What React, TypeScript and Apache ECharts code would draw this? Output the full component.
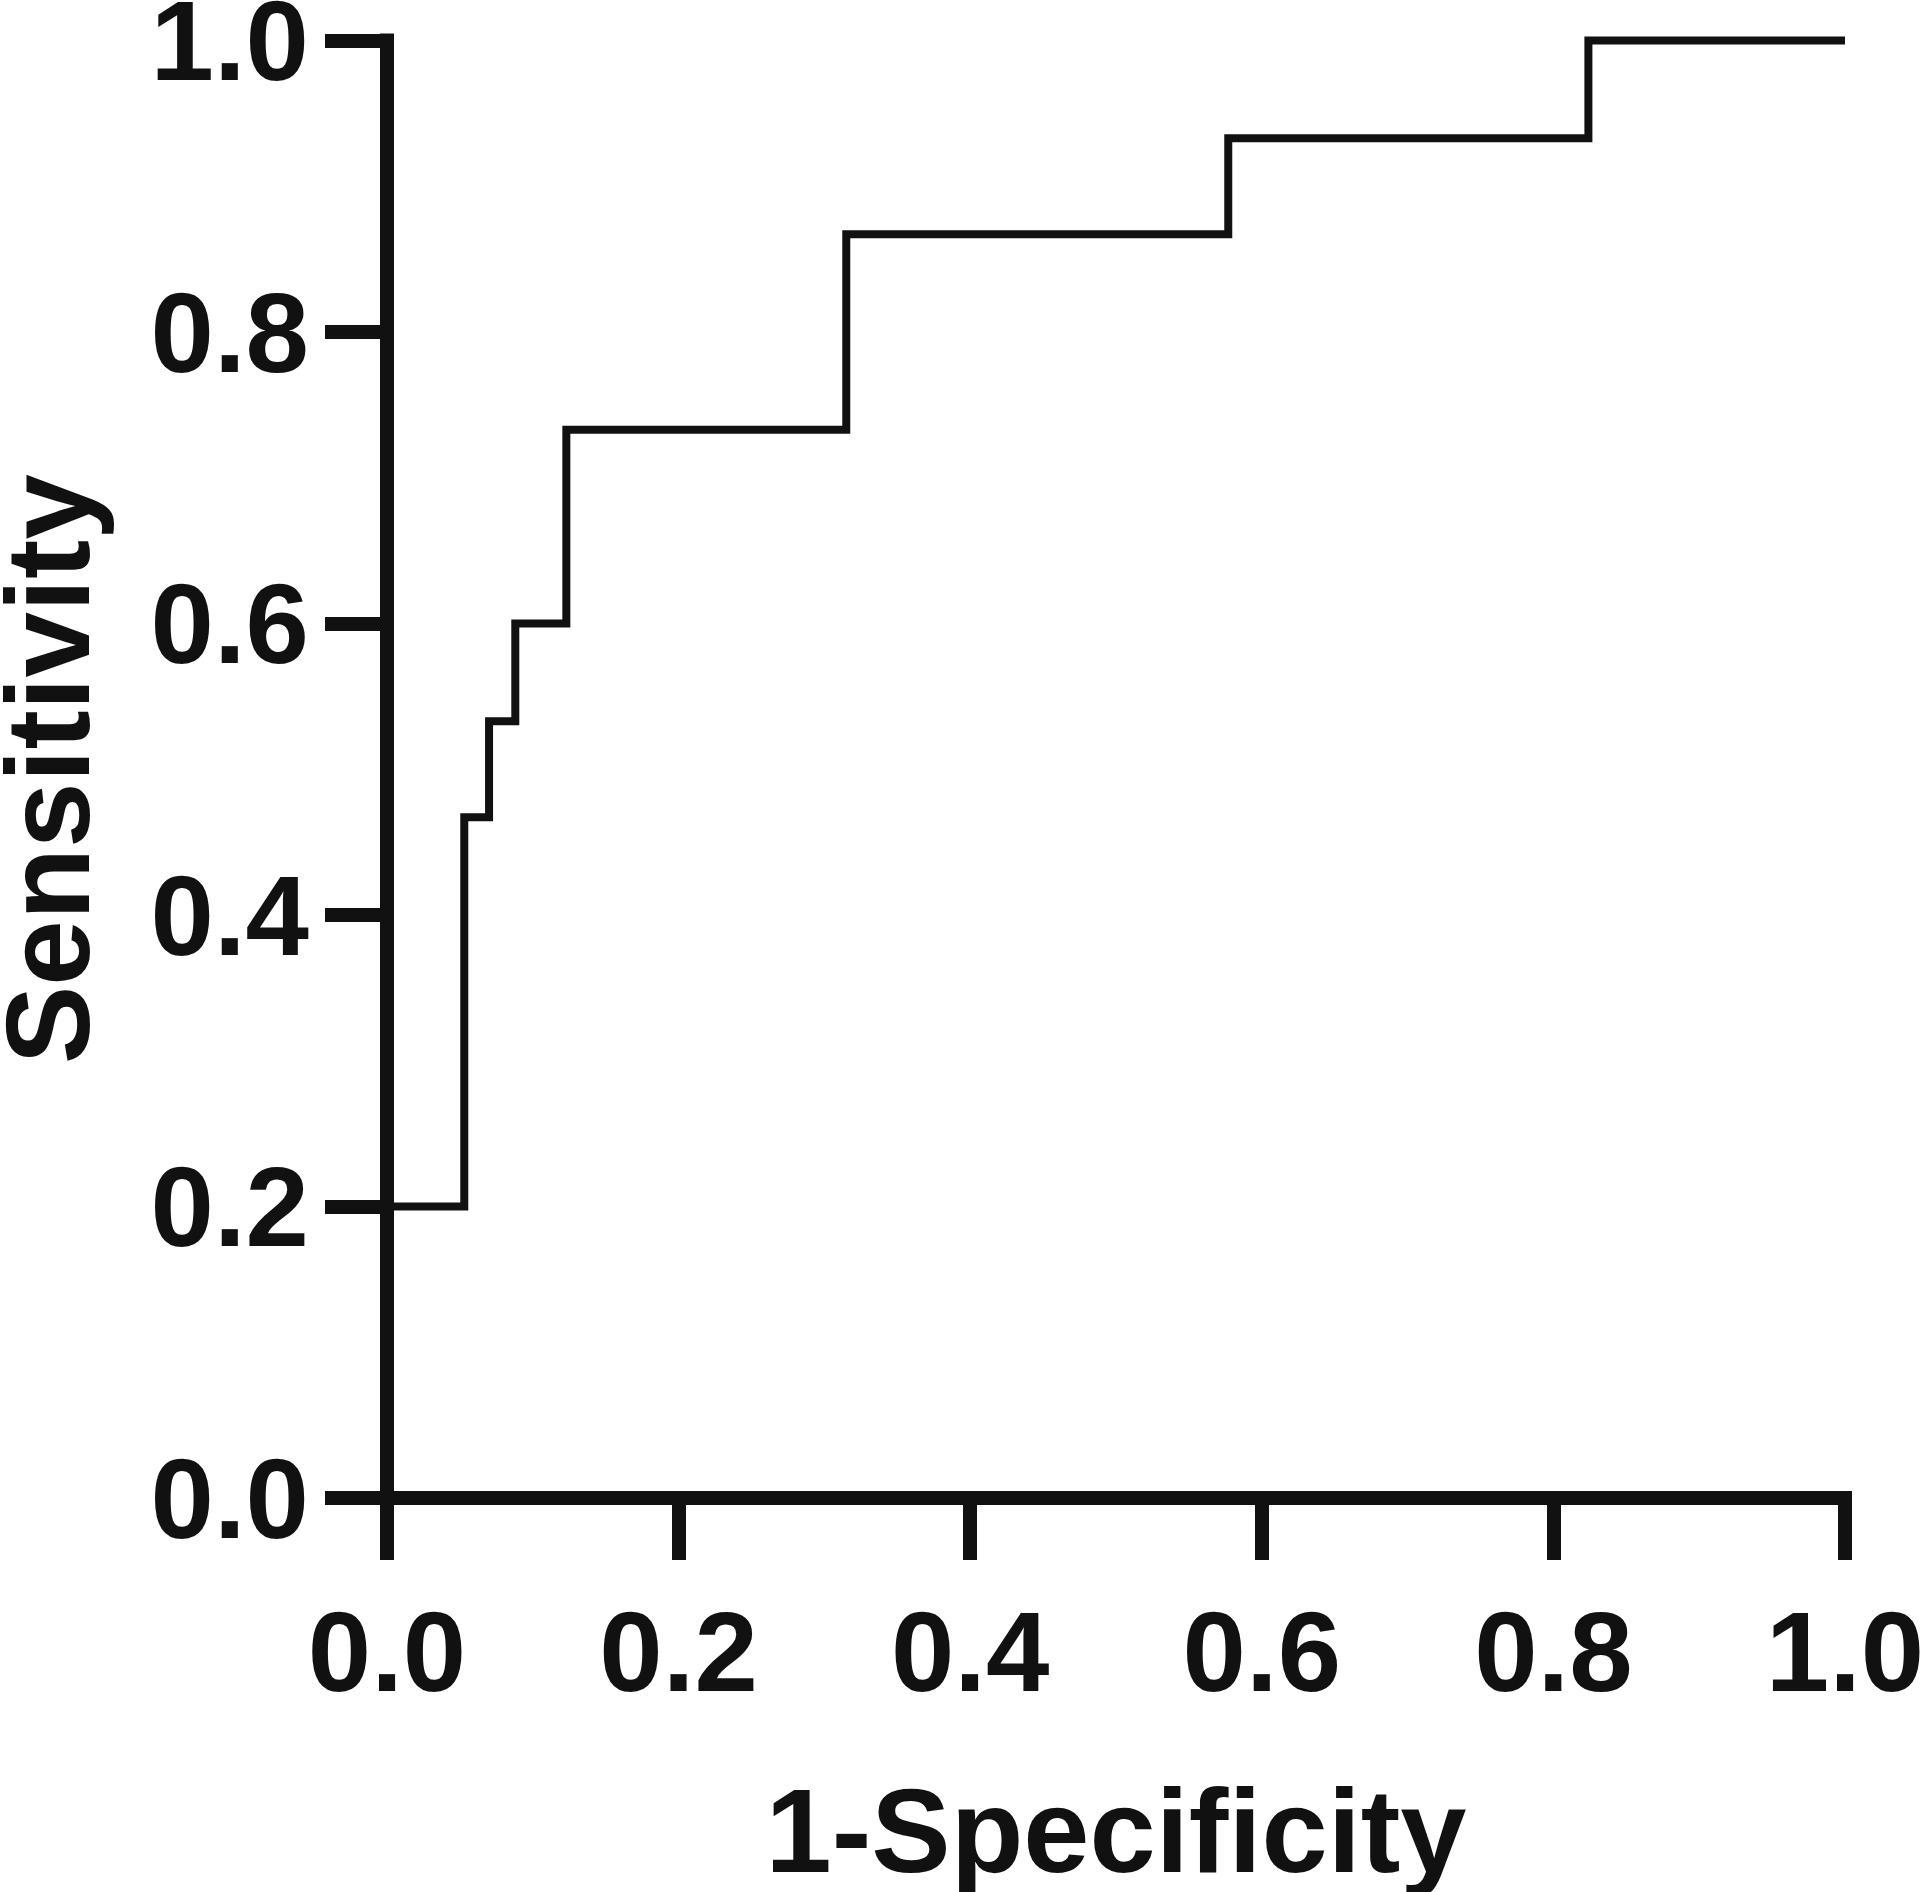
import React, { useEffect, useRef } from "react";
import * as echarts from "echarts";

// ROC curve points (1-Specificity, Sensitivity)
const fprValues = [0, 0.053, 0.07, 0.088, 0.123, 0.315, 0.577, 0.824, 1.0];
const tprValues = [0.2, 0.467, 0.533, 0.6, 0.733, 0.867, 0.933, 1.0, 1.0];
const axisTicks = [0, 0.2, 0.4, 0.6, 0.8, 1.0];
const xAxisTitle = "1-Specificity";
const yAxisTitle = "Sensitivity";

const INK = "#111111";
const FONT = "'Liberation Sans', Arial, Helvetica, sans-serif";

function buildStairs(): number[][] {
  const pts: number[][] = [[0, 0]];
  for (let i = 0; i < fprValues.length; i++) {
    const prevY = i === 0 ? 0 : tprValues[i - 1];
    pts.push([fprValues[i], prevY]);
    pts.push([fprValues[i], tprValues[i]]);
  }
  return pts;
}

export default function App() {
  const ref = useRef<HTMLDivElement>(null);
  useEffect(() => {
    if (!ref.current) return;
    const chart = echarts.init(ref.current, undefined, { renderer: "svg" });
    const axisCommon = {
      type: "value" as const,
      min: axisTicks[0],
      max: axisTicks[axisTicks.length - 1],
      interval: 0.2,
      splitLine: { show: false },
      axisLine: {
        show: true,
        onZero: false,
        lineStyle: { color: INK, width: 14, cap: "square" },
      },
      axisTick: {
        show: true,
        inside: false,
        length: 62,
        lineStyle: { color: INK, width: 14 },
      },
      nameLocation: "middle" as const,
    };
    chart.setOption({
      animation: false,
      backgroundColor: "#ffffff",
      grid: {
        left: 387,
        right: 75,
        top: 40.5,
        bottom: 394,
        containLabel: false,
        outerBoundsMode: "none",
      },
      xAxis: {
        ...axisCommon,
        name: xAxisTitle,
        nameGap: 273,
        nameTextStyle: {
          color: INK,
          fontFamily: FONT,
          fontWeight: "bold",
          fontSize: 119,
        },
        axisLabel: {
          color: INK,
          fontFamily: FONT,
          fontWeight: "bold",
          fontSize: 114,
          margin: 96,
          formatter: (v: number) => v.toFixed(1),
        },
      },
      yAxis: {
        ...axisCommon,
        name: yAxisTitle,
        nameGap: 280,
        nameRotate: 90,
        nameTextStyle: {
          color: INK,
          fontFamily: FONT,
          fontWeight: "bold",
          fontSize: 118,
        },
        axisLabel: {
          color: INK,
          fontFamily: FONT,
          fontWeight: "bold",
          fontSize: 114,
          margin: 78,
          formatter: (v: number) => v.toFixed(1),
        },
      },
      series: [
        {
          type: "line",
          data: buildStairs(),
          showSymbol: false,
          symbol: "none",
          clip: false,
          lineStyle: { color: INK, width: 8, join: "miter" },
          z: 1,
        },
      ],
    });
    return () => chart.dispose();
  }, []);
  return (
    <div
      ref={ref}
      style={{ position: "fixed", left: 0, top: 0, width: 1920, height: 1892, background: "#fff" }}
    />
  );
}
